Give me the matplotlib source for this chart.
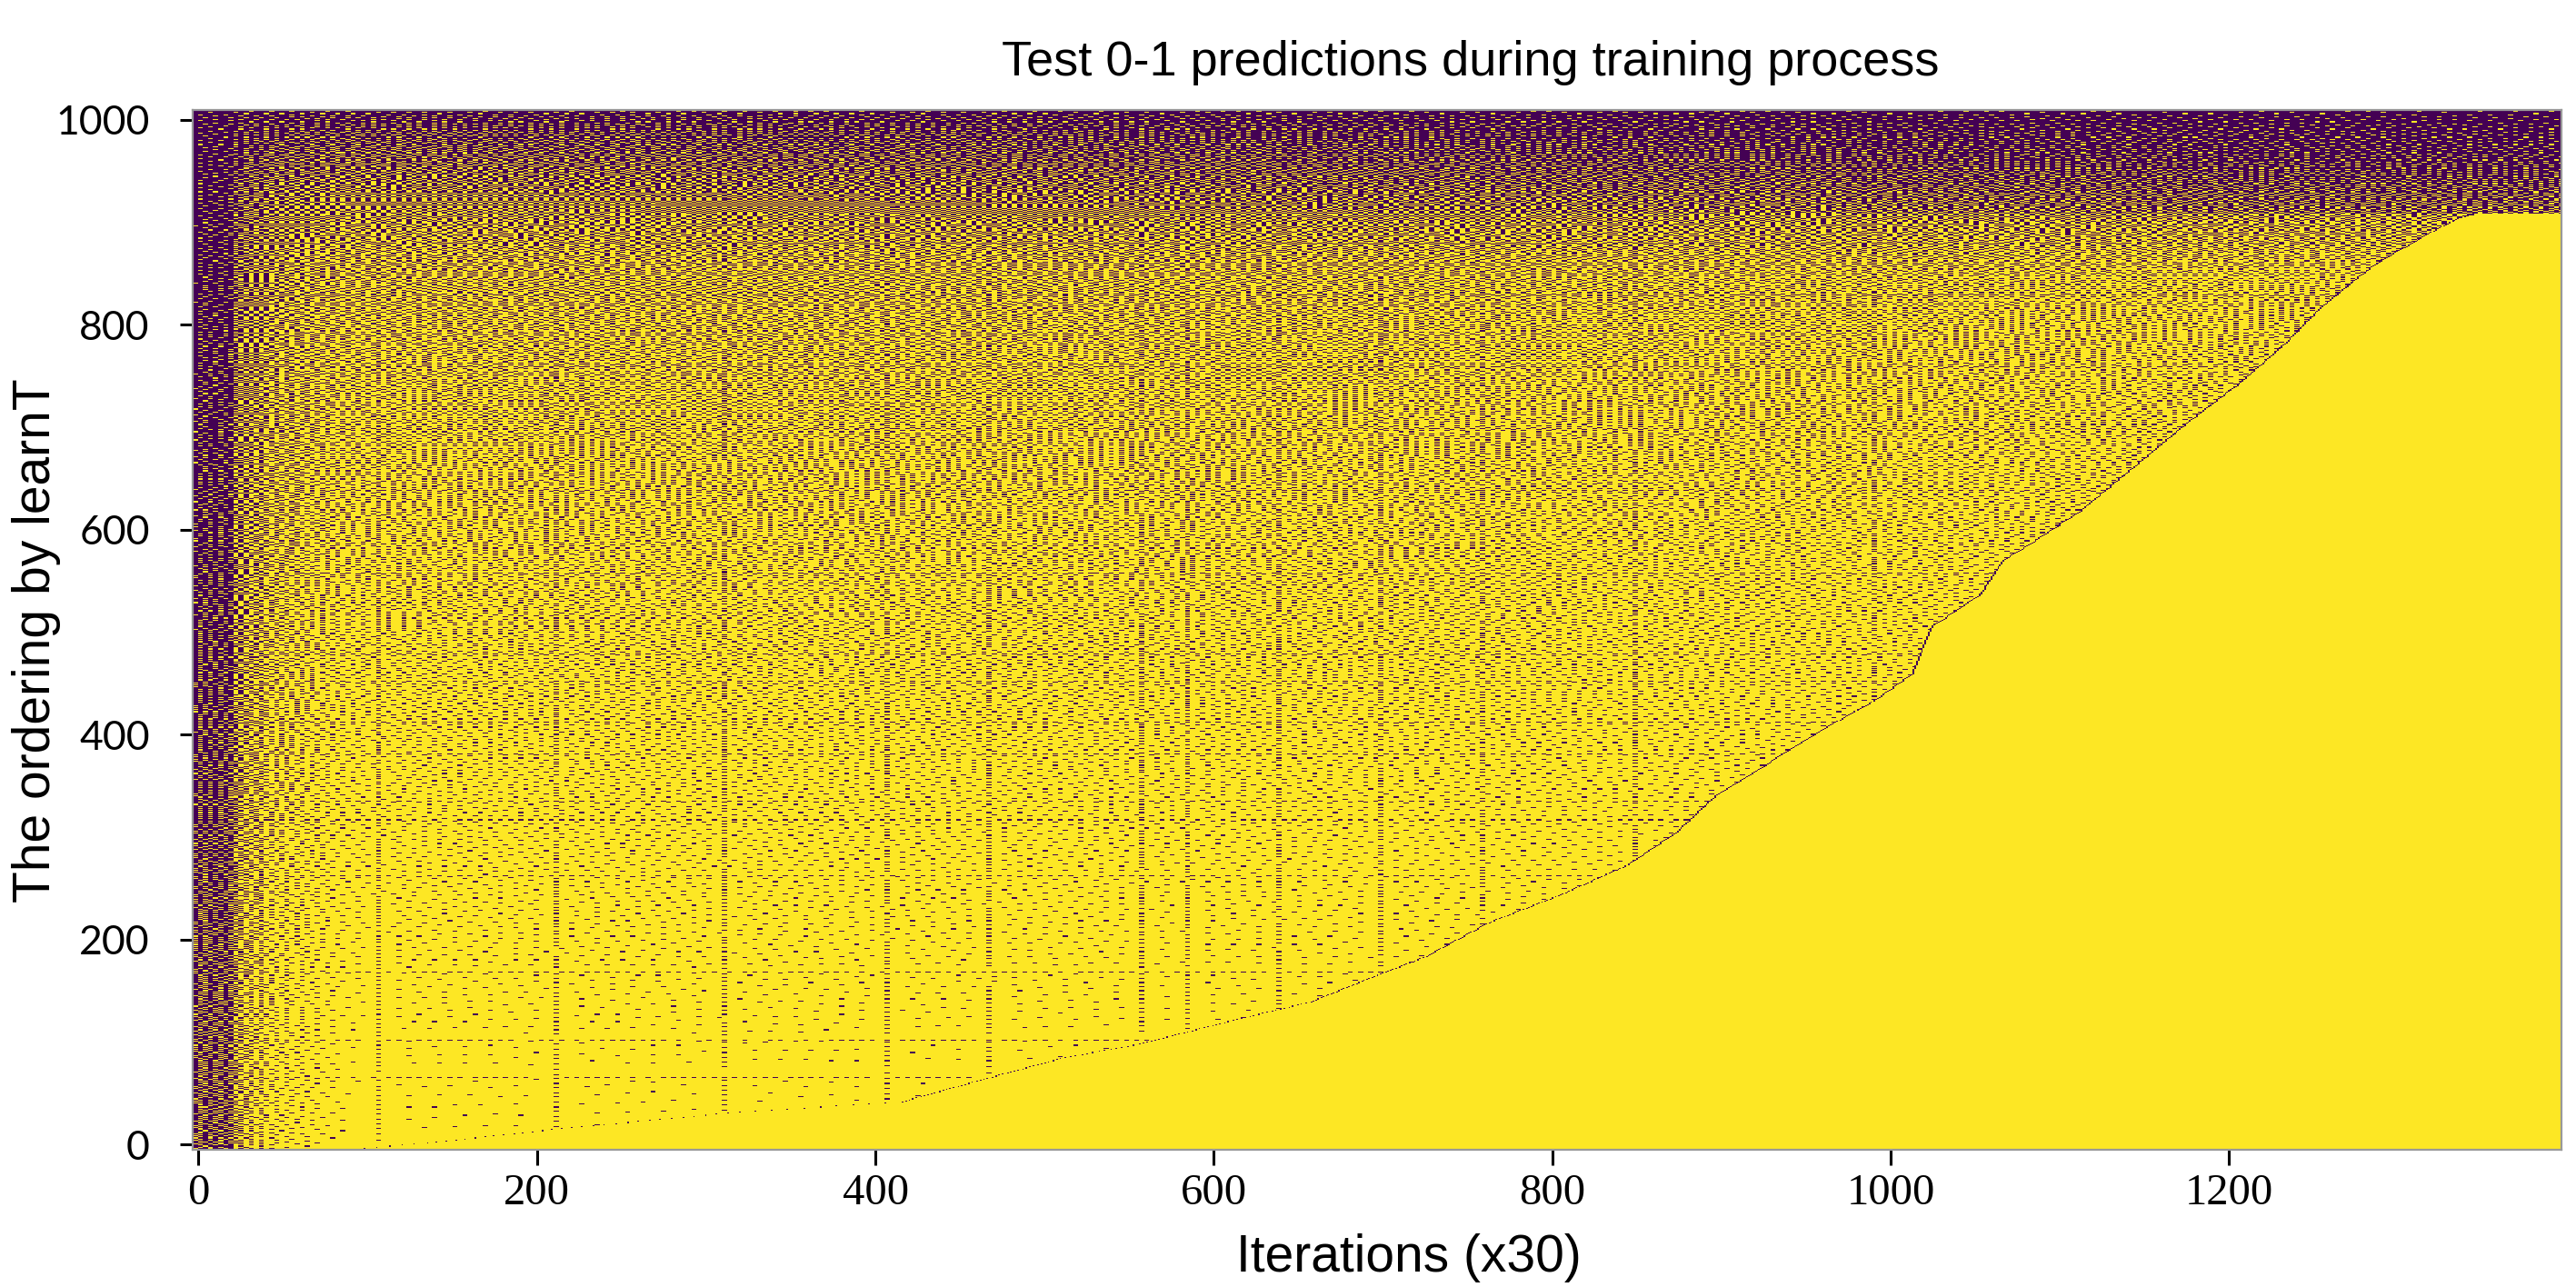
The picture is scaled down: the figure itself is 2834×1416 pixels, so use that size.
import numpy as np
import matplotlib
matplotlib.use("Agg")
import matplotlib.pyplot as plt

# size of the prediction matrix (samples x evaluation steps)
n_rows = 1010
n_cols = 1397

# learnT boundary: row index -> first column of the solid yellow part
bound_rows = [0, 6, 21, 36, 46, 66, 89, 102, 125, 143, 170, 187, 220, 246, 276, 308,
              345, 376, 408, 435, 462, 507, 539, 571, 593, 620, 666, 707, 743, 783,
              815, 838, 860, 892, 905, 908]
bound_cols = [95, 139, 224, 323, 419, 463, 515, 559, 614, 660, 701, 728, 765, 806, 847,
              876, 900, 931, 962, 992, 1015, 1026, 1055, 1068, 1089, 1114, 1148, 1178,
              1207, 1235, 1254, 1271, 1288, 1322, 1338, 1345]
last_learned_row = 908

# share of correct (yellow) predictions before learnT, estimated per row band
level_rows = [0, 100, 200, 300, 400, 500, 600, 700, 800, 870, 920, 960, 990, 1009]
level_vals = [0.985, 0.975, 0.95, 0.92, 0.88, 0.83, 0.79, 0.75, 0.70, 0.64, 0.52, 0.38, 0.25, 0.15]

# dark strip of the first ~22 iterations
left_rows = [0, 500, 1009]
left_vals = [0.35, 0.22, 0.12]
blend_cols = [22, 26, 45, 90]
blend_vals = [0.0, 0.5, 0.8, 1.0]

# upper rows get darker towards the right
fade_cols = [0, 500, 1000, 1396]
fade_vals = [1.0, 0.85, 0.6, 0.45]
fade_rows = [850, 960]

# rows / iterations that show up as darker lines
hard_rows = [70, 106, 172, 266, 320, 338, 384, 415, 455, 481, 560, 640, 700, 760, 830, 880]
hard_cols = [12, 18, 40, 110, 215, 314, 410, 470, 559, 585, 640, 700, 760, 850, 990]

rows = np.arange(n_rows)
cols = np.arange(n_cols)

learn_t = np.interp(rows, bound_rows, bound_cols).astype(int)
learn_t[rows > last_learned_row] = n_cols

# density of yellow cells
main = np.interp(rows, level_rows, level_vals)[:, None] * np.ones((1, n_cols))
fade = np.interp(cols, fade_cols, fade_vals)[None, :]
strength = np.interp(rows, fade_rows, [0.0, 1.0])[:, None]
main = main * (1 - strength + strength * fade)
ratio = np.clip(cols[None, :] / np.maximum(learn_t[:, None], 1), 0, 1)
boost = np.where(learn_t[:, None] < n_cols, 0.3 * ratio ** 2, 0.0)
main = main + (1 - main) * boost

left = np.interp(rows, left_rows, left_vals)[:, None]
w = np.interp(cols, blend_cols, blend_vals)[None, :]
p = (1 - w) * left + w * main

for r in hard_rows:
    p[r] *= 0.8
for c in hard_cols:
    p[:, c] *= 0.75

# average over groups of 3 iterations, so the marks come out as short dashes
block = 3
n_blk = -(-n_cols // block)
padded = np.pad(p, ((0, 0), (0, n_blk * block - n_cols)), mode="edge")
pb = padded.reshape(n_rows, n_blk, block).mean(axis=2)

# serpentine Floyd-Steinberg dithering turns the densities into 0/1 cells
work = pb.copy()
bits_b = np.zeros((n_rows, n_blk), dtype=np.uint8)
for r in range(n_rows):
    line = work[r].tolist()
    below = [0.0] * n_blk
    bits = [0] * n_blk
    if r % 2 == 0:
        order = range(n_blk)
        d = 1
    else:
        order = range(n_blk - 1, -1, -1)
        d = -1
    for c in order:
        v = line[c]
        b = 1 if v >= 0.5 else 0
        e = v - b
        bits[c] = b
        cn = c + d
        cb = c - d
        if 0 <= cn < n_blk:
            line[cn] += e * 0.4375
            below[cn] += e * 0.0625
        if 0 <= cb < n_blk:
            below[cb] += e * 0.1875
        below[c] += e * 0.3125
    bits_b[r] = bits
    if r + 1 < n_rows:
        work[r + 1] += np.array(below)

pred = np.repeat(bits_b, block, axis=1)[:, :n_cols]

# after learnT always correct, the step right before is the last mistake
for r in range(n_rows):
    t = learn_t[r]
    if t < n_cols:
        pred[r, t:] = 1
        if t > 0:
            pred[r, t - 1] = 0

fig = plt.figure(figsize=(14.17, 7.08), dpi=200)
ax = fig.add_axes([0.0748, 0.1066, 0.9196, 0.8079])

ax.imshow(pred, cmap="viridis", vmin=0, vmax=1, origin="lower", aspect="auto",
          interpolation="nearest", extent=(-3.5, n_cols - 0.5, -5, 1009.5))
ax.set_xlim(-3.5, n_cols - 0.5)
ax.set_ylim(-5, 1009.5)

ax.set_xticks([0, 200, 400, 600, 800, 1000, 1200])
ax.set_yticks([0, 200, 400, 600, 800, 1000])
ax.tick_params(axis="x", length=6, width=1.1, pad=3.5, labelsize=17.5)
ax.tick_params(axis="y", length=5, width=1.1, pad=12, labelsize=16)
for lab in ax.get_xticklabels():
    lab.set_family("Liberation Serif")
for lab in ax.get_yticklabels():
    lab.set_family("Lato")
for s in ax.spines.values():
    s.set_color("#999999")
    s.set_linewidth(0.8)

fig.text(0.571, 0.951, "Test 0-1 predictions during training process",
         family="Liberation Sans", fontsize=19.5, ha="center", va="center")
fig.text(0.547, 0.0226, "Iterations (x30)", family="Liberation Sans",
         fontsize=20.5, ha="center", va="center")
fig.text(0.014, 0.502, "The ordering by learnT", family="Liberation Sans",
         fontsize=20.5, ha="center", va="center", rotation=90)

fig.savefig("out.png", dpi=200)
